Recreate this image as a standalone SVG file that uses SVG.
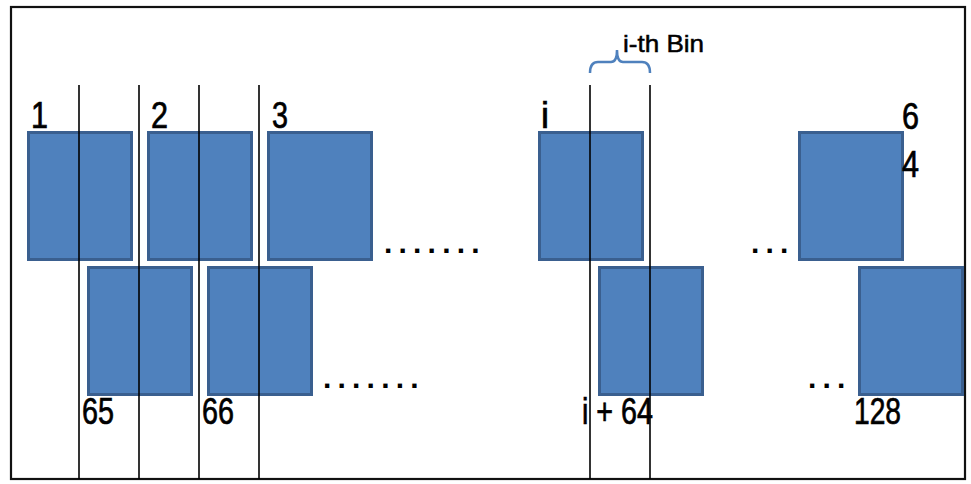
<svg xmlns="http://www.w3.org/2000/svg" width="971" height="484" viewBox="0 0 971 484">
  <style>
    .box { fill: #4F81BD; stroke: #3A5F8F; stroke-width: 3; }
    .bin { stroke: #000; stroke-width: 1.6; fill: none; }
    .lbl { font-family: "Liberation Sans", Arial, sans-serif; font-size: 36px; fill: #000; stroke: #000; stroke-width: 0.7; }
    .dots { font-family: "Liberation Sans", Arial, sans-serif; font-size: 30px; font-weight: bold; fill: #000; letter-spacing: 6.2px; }
    .cap { font-family: "Liberation Sans", Arial, sans-serif; font-size: 24px; fill: #000; stroke: #000; stroke-width: 0.5; }
  </style>

  <rect x="0" y="0" width="971" height="484" fill="#fff"/>
  <!-- outer frame -->
  <rect x="11" y="7" width="954" height="472" fill="none" stroke="#111" stroke-width="2.2"/>

  <!-- upper row of windows -->
  <g id="win-1"><rect class="box" x="28.5" y="132.5" width="103" height="127"/></g>
  <g id="win-2"><rect class="box" x="148.5" y="132.5" width="103" height="127"/></g>
  <g id="win-3"><rect class="box" x="268.5" y="132.5" width="103" height="127"/></g>
  <g id="win-i"><rect class="box" x="539.5" y="132.5" width="103" height="127"/></g>
  <g id="win-64"><rect class="box" x="799.5" y="132.5" width="103" height="127"/></g>

  <!-- lower row of windows -->
  <g id="win-65"><rect class="box" x="88.5" y="267.5" width="103" height="127"/></g>
  <g id="win-66"><rect class="box" x="208.5" y="267.5" width="103" height="127"/></g>
  <g id="win-i64"><rect class="box" x="599.5" y="267.5" width="103" height="127"/></g>
  <g id="win-128"><rect class="box" x="859.5" y="267.5" width="103" height="127"/></g>

  <!-- bin boundaries -->
  <g id="connectors">
    <line class="bin" x1="79" y1="85" x2="79" y2="479"/>
    <line class="bin" x1="139" y1="85" x2="139" y2="479"/>
    <line class="bin" x1="199" y1="85" x2="199" y2="479"/>
    <line class="bin" x1="259" y1="85" x2="259" y2="479"/>
    <line class="bin" x1="590" y1="85" x2="590" y2="479"/>
    <line class="bin" x1="650" y1="85" x2="650" y2="479"/>
    <!-- brace over the i-th bin -->
    <path d="M590,73 Q590,62 598,62 L611,62 Q617,62 617,50 Q617,62 623,62 L642,62 Q650,62 650,73" fill="none" stroke="#4F81BD" stroke-width="2.5"/>
  </g>

  <!-- labels -->
  <g id="labels">
    <text class="cap" x="623" y="52" textLength="81" lengthAdjust="spacingAndGlyphs">i-th Bin</text>
    <text class="lbl" x="31" y="128" textLength="17" lengthAdjust="spacingAndGlyphs">1</text>
    <text class="lbl" x="151" y="128" textLength="17" lengthAdjust="spacingAndGlyphs">2</text>
    <text class="lbl" x="272" y="128" textLength="16" lengthAdjust="spacingAndGlyphs">3</text>
    <text class="lbl" x="541" y="128" textLength="8" lengthAdjust="spacingAndGlyphs">i</text>
    <text class="lbl" x="902" y="129" textLength="17" lengthAdjust="spacingAndGlyphs">6</text>
    <text class="lbl" x="902" y="177" textLength="17" lengthAdjust="spacingAndGlyphs">4</text>
    <text class="lbl" x="82" y="424" textLength="32" lengthAdjust="spacingAndGlyphs">65</text>
    <text class="lbl" x="202" y="424" textLength="32" lengthAdjust="spacingAndGlyphs">66</text>
    <text class="lbl" x="582" y="424" textLength="71" lengthAdjust="spacingAndGlyphs">i + 64</text>
    <text class="lbl" x="854" y="424" textLength="47" lengthAdjust="spacingAndGlyphs">128</text>

    <text class="dots" x="384" y="253">.......</text>
    <text class="dots" x="323" y="388">.......</text>
    <text class="dots" x="751" y="253">...</text>
    <text class="dots" x="808" y="388">...</text>
  </g>
</svg>
